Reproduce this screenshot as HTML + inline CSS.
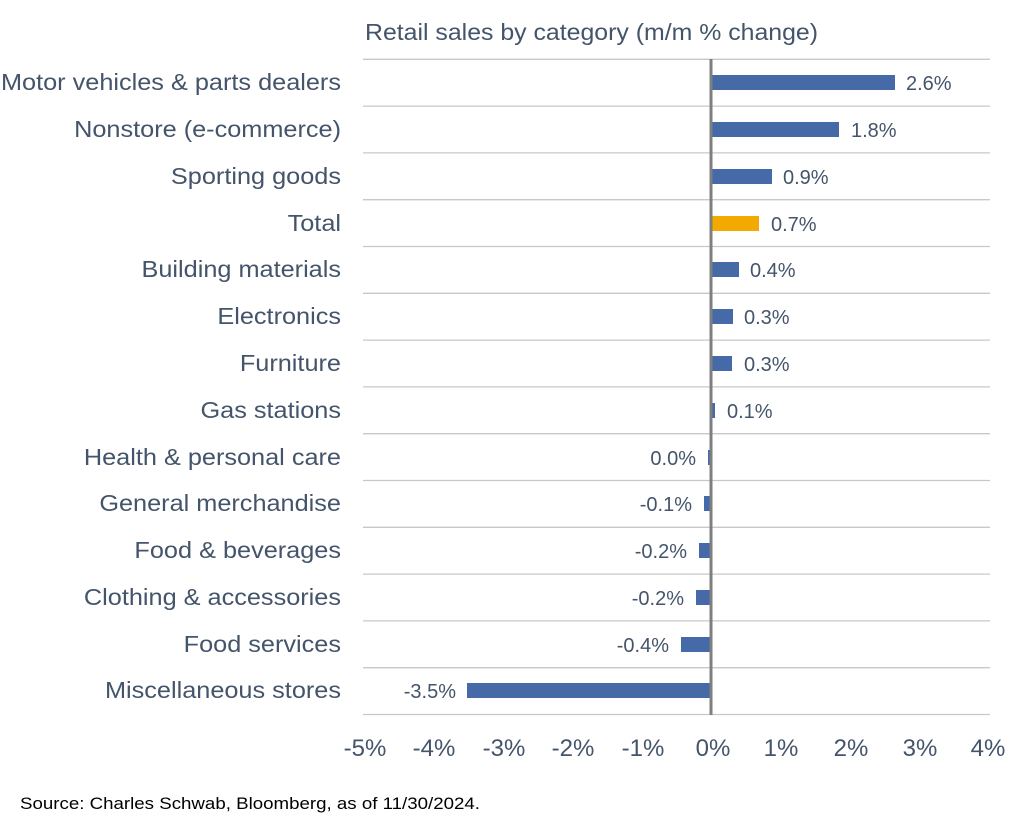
<!DOCTYPE html>
<html><head><meta charset="utf-8"><style>
html,body{margin:0;padding:0;background:#fff;}
svg{display:block;}
text{font-family:"Liberation Sans",sans-serif;}
</style></head><body>
<svg width="1020" height="833" viewBox="0 0 1020 833" xmlns="http://www.w3.org/2000/svg">
<text x="365" y="40" font-size="23" fill="#44546a" textLength="453" lengthAdjust="spacingAndGlyphs">Retail sales by category (m/m % change)</text>
<g stroke="#c8c8c8" stroke-width="1.3">
<line x1="363" x2="990" y1="59.3" y2="59.3"/><line x1="363" x2="990" y1="106.1" y2="106.1"/>
<line x1="363" x2="990" y1="152.9" y2="152.9"/><line x1="363" x2="990" y1="199.7" y2="199.7"/>
<line x1="363" x2="990" y1="246.5" y2="246.5"/><line x1="363" x2="990" y1="293.3" y2="293.3"/>
<line x1="363" x2="990" y1="340.1" y2="340.1"/><line x1="363" x2="990" y1="386.9" y2="386.9"/>
<line x1="363" x2="990" y1="433.7" y2="433.7"/><line x1="363" x2="990" y1="480.5" y2="480.5"/>
<line x1="363" x2="990" y1="527.3" y2="527.3"/><line x1="363" x2="990" y1="574.1" y2="574.1"/>
<line x1="363" x2="990" y1="620.9" y2="620.9"/><line x1="363" x2="990" y1="667.7" y2="667.7"/>
<line x1="363" x2="990" y1="714.5" y2="714.5"/>
</g>
<g fill="#466aa8">
<rect x="711" y="75" width="184" height="15"/>
<rect x="711" y="122" width="128" height="15"/>
<rect x="711" y="169" width="61" height="15"/>
<rect x="711" y="216" width="48" height="15" fill="#f2a900"/>
<rect x="711" y="262" width="28" height="15"/>
<rect x="711" y="309" width="22" height="15"/>
<rect x="711" y="356" width="21" height="15"/>
<rect x="711" y="403" width="4" height="15"/>
<rect x="708" y="450" width="3" height="15"/>
<rect x="704" y="496" width="7" height="15"/>
<rect x="699" y="543" width="12" height="15"/>
<rect x="696" y="590" width="15" height="15"/>
<rect x="681" y="637" width="30" height="15"/>
<rect x="467" y="683" width="244" height="15"/>
</g>
<line x1="711" x2="711" y1="59" y2="715" stroke="#7f7f7f" stroke-width="3"/>
<g transform="translate(341,0) scale(1.1,1) translate(-341,0)" font-size="23" fill="#44546a" text-anchor="end">
<text x="341" y="90">Motor vehicles &amp; parts dealers</text>
<text x="341" y="137">Nonstore (e-commerce)</text>
<text x="341" y="184">Sporting goods</text>
<text x="341" y="231">Total</text>
<text x="341" y="277">Building materials</text>
<text x="341" y="324">Electronics</text>
<text x="341" y="371">Furniture</text>
<text x="341" y="418">Gas stations</text>
<text x="341" y="465">Health &amp; personal care</text>
<text x="341" y="511">General merchandise</text>
<text x="341" y="558">Food &amp; beverages</text>
<text x="341" y="605">Clothing &amp; accessories</text>
<text x="341" y="652">Food services</text>
<text x="341" y="698">Miscellaneous stores</text>
</g>
<g font-size="20" fill="#44546a">
<text x="906" y="90">2.6%</text>
<text x="851" y="137">1.8%</text>
<text x="783" y="184">0.9%</text>
<text x="771" y="231">0.7%</text>
<text x="750" y="277">0.4%</text>
<text x="744" y="324">0.3%</text>
<text x="744" y="371">0.3%</text>
<text x="727" y="418">0.1%</text>
<g text-anchor="end">
<text x="696" y="465">0.0%</text>
<text x="692" y="511">-0.1%</text>
<text x="687" y="558">-0.2%</text>
<text x="684" y="605">-0.2%</text>
<text x="669" y="652">-0.4%</text>
<text x="456" y="698">-3.5%</text>
</g>
</g>
<g font-size="24" fill="#44546a" text-anchor="middle">
<text x="365" y="756">-5%</text><text x="434" y="756">-4%</text><text x="504" y="756">-3%</text>
<text x="573" y="756">-2%</text><text x="643" y="756">-1%</text><text x="713" y="756">0%</text>
<text x="781" y="756">1%</text><text x="851" y="756">2%</text><text x="920" y="756">3%</text>
<text x="988" y="756">4%</text>
</g>
<text x="20" y="809" font-size="17" fill="#000" textLength="460" lengthAdjust="spacingAndGlyphs">Source: Charles Schwab, Bloomberg, as of 11/30/2024.</text>
</svg>
</body></html>
